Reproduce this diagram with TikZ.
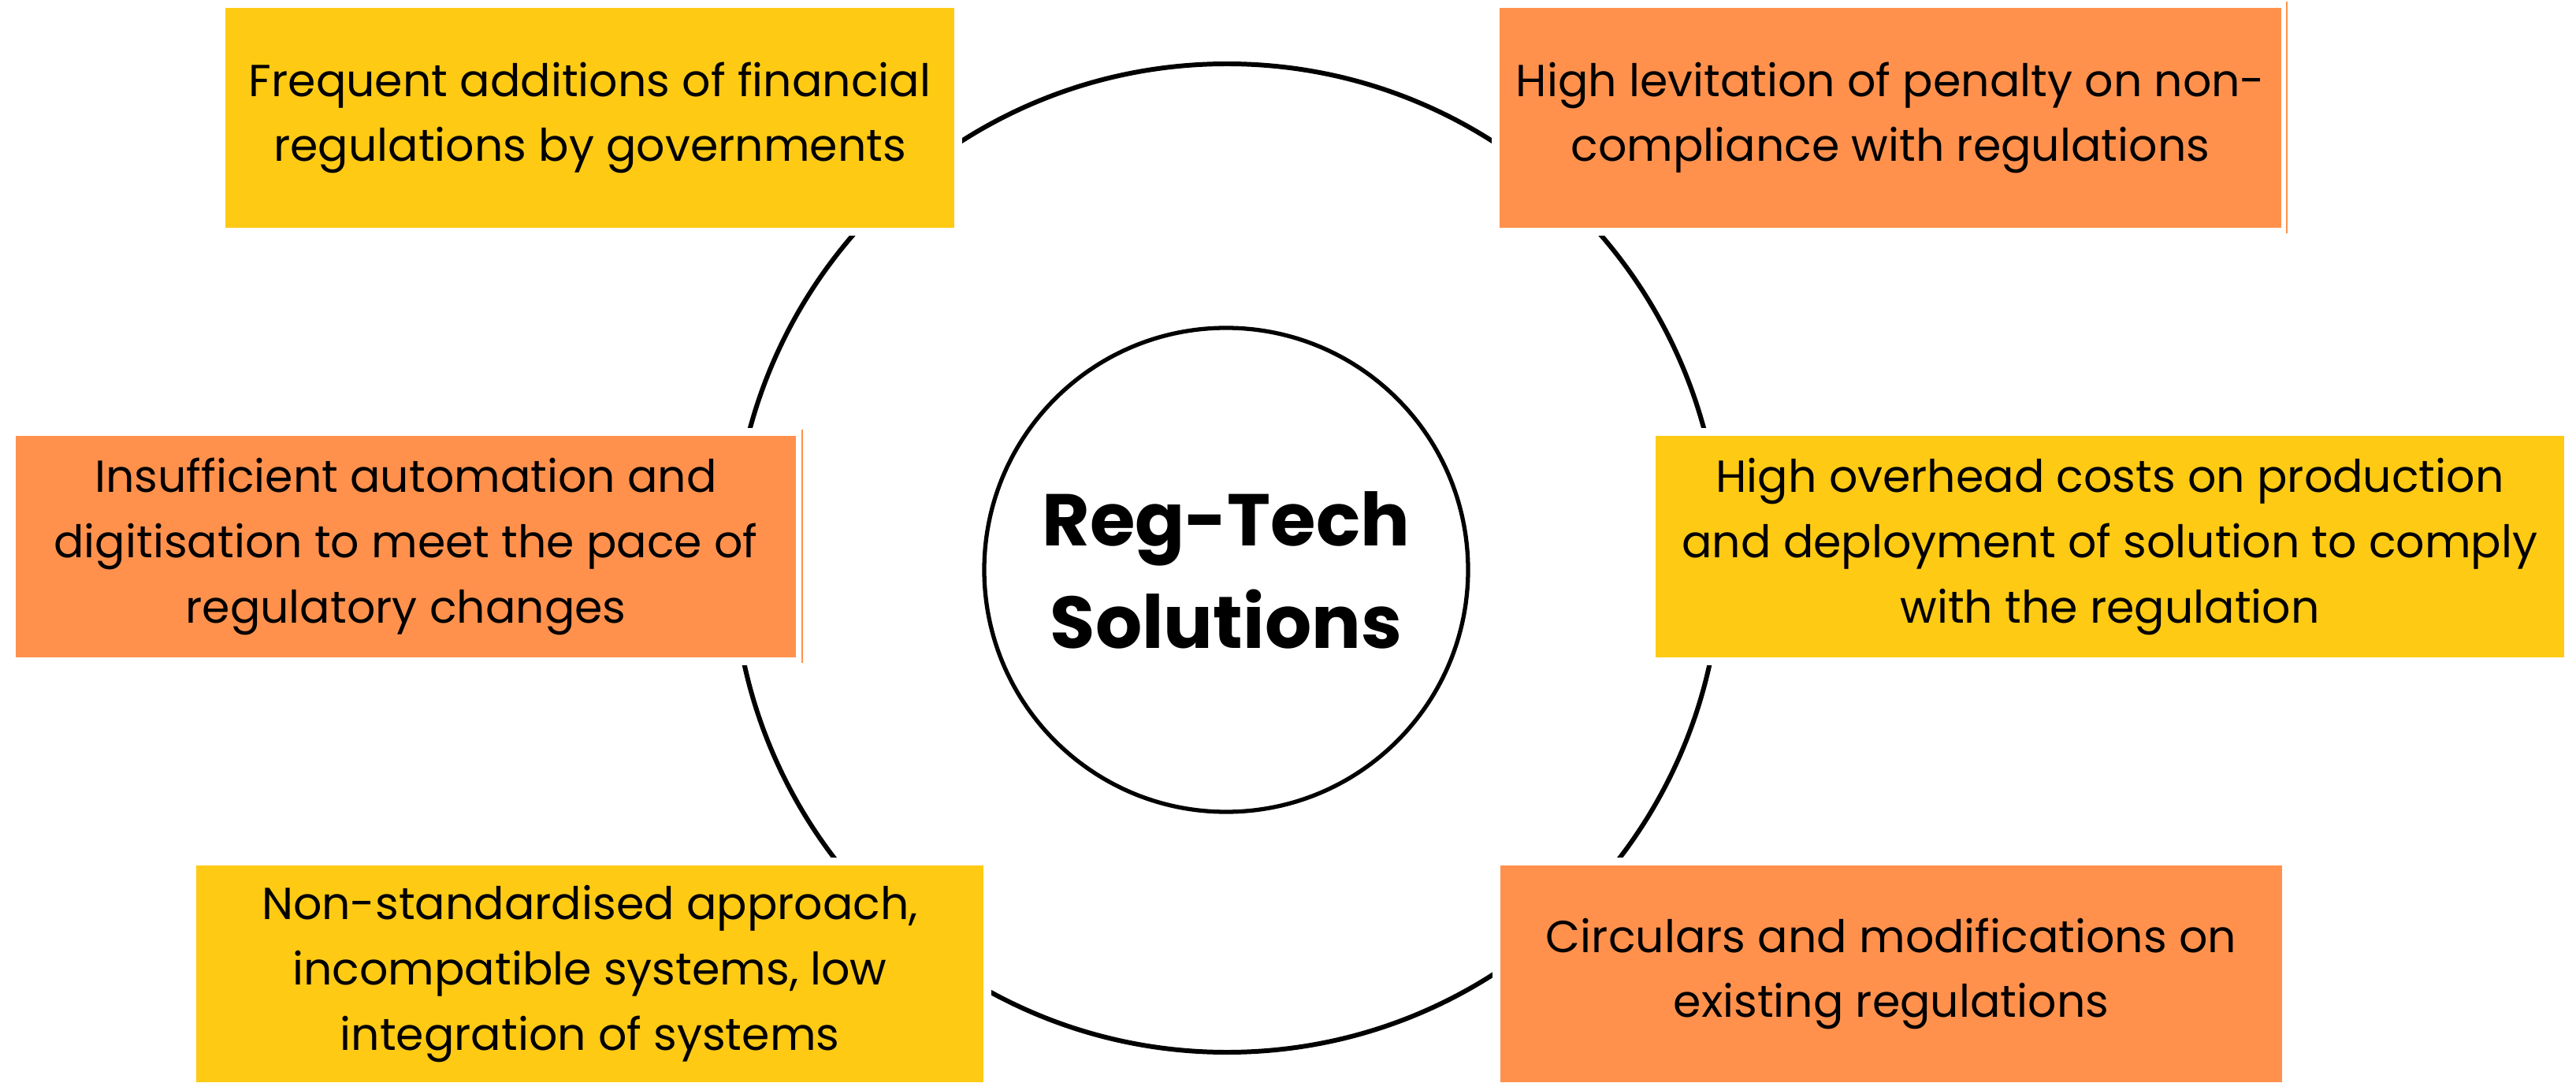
\documentclass[tikz,border=0pt]{standalone}
\usepackage{fontspec}
\setmainfont{Poppins}
\usepackage{xcolor}
\usetikzlibrary{positioning}

\definecolor{boxyellow}{HTML}{FECA14}
\definecolor{boxorange}{HTML}{FF914D}

\begin{document}
\begin{tikzpicture}[
    factor/.style={rectangle, minimum height=2.79cm, inner sep=0pt, align=center,
        font=\fontsize{16.2}{23.5}\selectfont,
        preaction={draw=white, line width=0.2cm}},
    yellowbox/.style={factor, fill=boxyellow},
    orangebox/.style={factor, fill=boxorange},
    ring/.style={draw=black, line width=1.7pt},
    edge/.style={draw=boxorange, line width=0.6pt}
]

\useasboundingbox (0,0) rectangle (32.69,13.73);

% Outer ring
\node[ring, circle, minimum size=12.54cm, inner sep=0pt] (ring) at (15.57, 6.65) {};

% Centre
\node[ring, circle, line width=1.5pt, minimum size=6.14cm, inner sep=0pt, align=center,
      font=\bfseries\fontsize{26.5}{37}\selectfont] (hub) at (15.56, 6.50) {Reg-Tech\\Solutions};

% Top row
\node[yellowbox, minimum width=9.25cm] (additions) at (7.485, 12.235)
    {Frequent additions of financial\\regulations by governments};
\node[orangebox, minimum width=9.92cm] (penalty) at (23.99, 12.235)
    {High levitation of penalty on non-\\compliance with regulations};

% Middle row
\node[orangebox, minimum width=9.90cm, minimum height=2.81cm] (automation) at (5.15, 6.795)
    {Insufficient automation and\\digitisation to meet the pace of\\regulatory changes};
\node[yellowbox, minimum width=11.53cm, minimum height=2.81cm] (overhead) at (26.775, 6.795)
    {High overhead costs on production\\and deployment of solution to comply\\with the regulation};

% Bottom row
\node[yellowbox, minimum width=9.99cm, minimum height=2.75cm] (approach) at (7.485, 1.375)
    {Non-standardised approach,\\incompatible systems, low\\integration of systems};
\node[orangebox, minimum width=9.92cm, minimum height=2.75cm] (circulars) at (24.00, 1.375)
    {Circulars and modifications on\\existing regulations};

% Thin edges beside two boxes
\draw[edge] ([xshift=0.06cm, yshift=0.07cm]penalty.north east) -- ([xshift=0.06cm, yshift=-0.06cm]penalty.south east);
\draw[edge] ([xshift=0.07cm, yshift=0.07cm]automation.north east) -- ([xshift=0.07cm, yshift=-0.06cm]automation.south east);

\end{tikzpicture}
\end{document}
